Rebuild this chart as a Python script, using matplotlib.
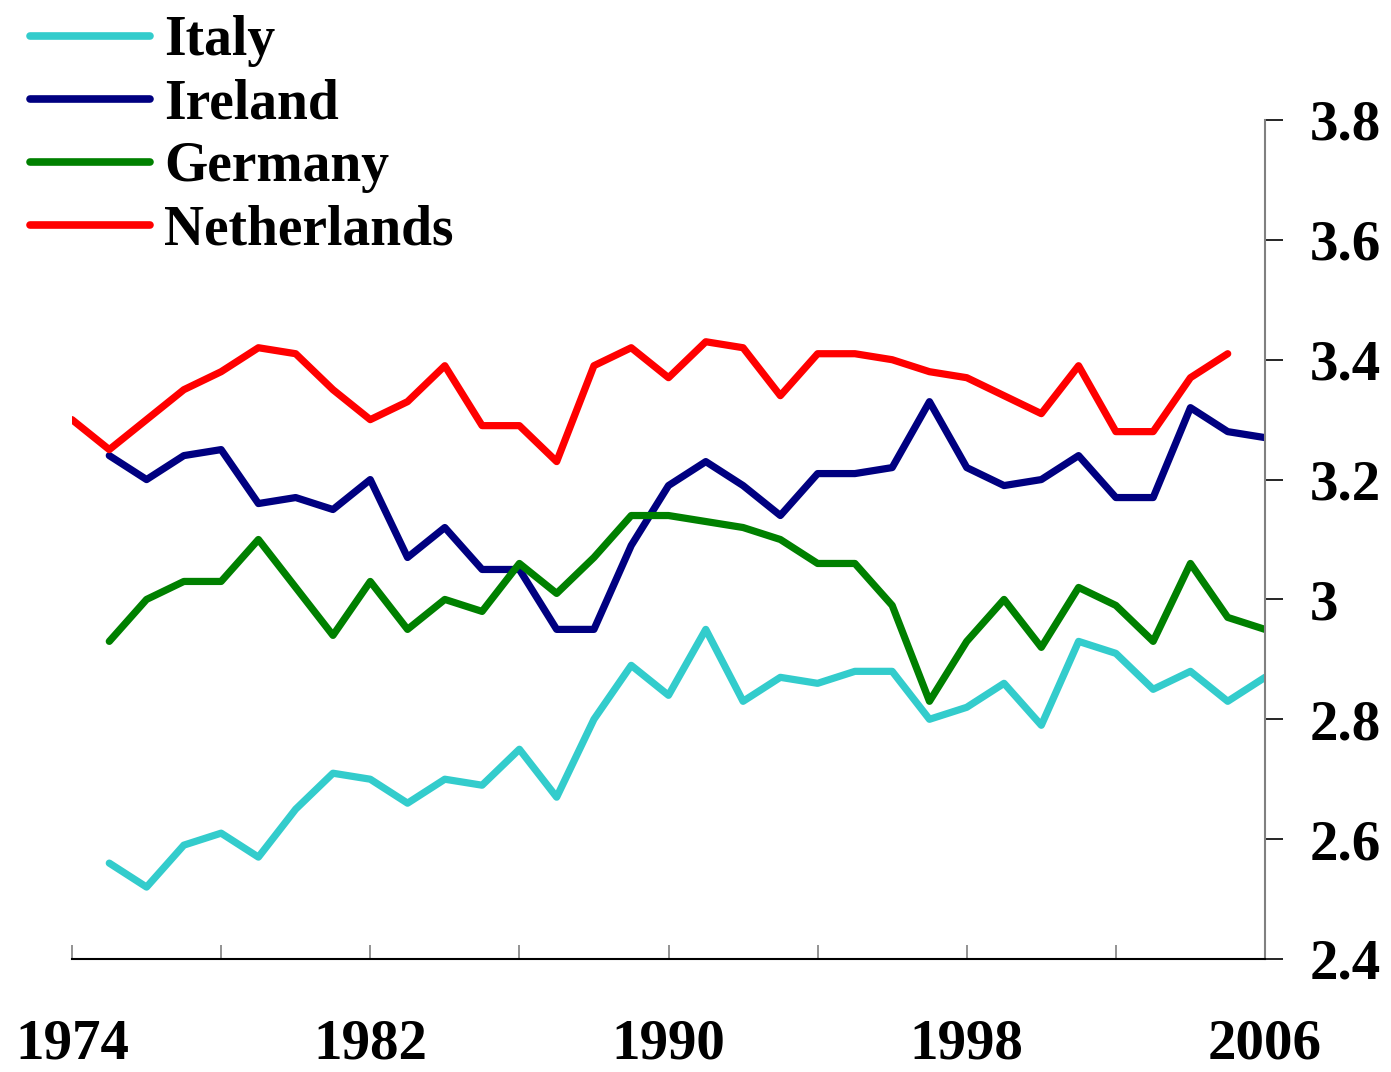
import matplotlib
matplotlib.use("Agg")
import matplotlib.pyplot as plt

# yearly values
years_nl = list(range(1974, 2006))
years = list(range(1975, 2007))

italy = [2.56, 2.52, 2.59, 2.61, 2.57, 2.65, 2.71, 2.70, 2.66, 2.70, 2.69,
         2.75, 2.67, 2.80, 2.89, 2.84, 2.95, 2.83, 2.87, 2.86, 2.88, 2.88, 2.80,
         2.82, 2.86, 2.79, 2.93, 2.91, 2.85, 2.88, 2.83, 2.87]
ireland = [3.24, 3.20, 3.24, 3.25, 3.16, 3.17, 3.15, 3.20, 3.07, 3.12, 3.05,
           3.05, 2.95, 2.95, 3.09, 3.19, 3.23, 3.19, 3.14, 3.21, 3.21, 3.22, 3.33,
           3.22, 3.19, 3.20, 3.24, 3.17, 3.17, 3.32, 3.28, 3.27]
germany = [2.93, 3.00, 3.03, 3.03, 3.10, 3.02, 2.94, 3.03, 2.95, 3.00, 2.98,
           3.06, 3.01, 3.07, 3.14, 3.14, 3.13, 3.12, 3.10, 3.06, 3.06, 2.99, 2.83,
           2.93, 3.00, 2.92, 3.02, 2.99, 2.93, 3.06, 2.97, 2.95]
netherlands = [3.30, 3.25, 3.30, 3.35, 3.38, 3.42, 3.41, 3.35, 3.30, 3.33, 3.39, 3.29,
               3.29, 3.23, 3.39, 3.42, 3.37, 3.43, 3.42, 3.34, 3.41, 3.41, 3.40, 3.38,
               3.37, 3.34, 3.31, 3.39, 3.28, 3.28, 3.37, 3.41]

xticks = list(range(1974, 2007, 4))
xlabels = ['1974', '', '1982', '', '1990', '', '1998', '', '2006']
yticks = [2.4, 2.6, 2.8, 3.0, 3.2, 3.4, 3.6, 3.8]
ylabels = ['2.4', '2.6', '2.8', '3', '3.2', '3.4', '3.6', '3.8']

plt.rcParams['font.family'] = ['Liberation Serif', 'DejaVu Serif']
plt.rcParams['font.weight'] = 'bold'

fig = plt.figure(figsize=(13.91, 10.72), dpi=100)
ax = fig.add_axes([72/1391, 1-959/1072, (1265-72)/1391, (959-120)/1072])

lw = 5.2
ax.plot(years, italy, color='#33CCCC', lw=lw, label='Italy', solid_capstyle='round')
ax.plot(years, ireland, color='#000080', lw=lw, label='Ireland', solid_capstyle='round')
ax.plot(years, germany, color='#008000', lw=lw, label='Germany', solid_capstyle='round')
ax.plot(years_nl, netherlands, color='#FF0000', lw=lw, label='Netherlands', solid_capstyle='round')

ax.set_xlim(1974, 2006)
ax.set_ylim(2.4, 3.8)

ax.spines['top'].set_visible(False)
ax.spines['left'].set_visible(False)
ax.spines['right'].set_color('#808080')
ax.spines['right'].set_linewidth(1.5)
ax.spines['bottom'].set_linewidth(1.5)

ax.yaxis.tick_right()
ax.set_yticks(yticks)
ax.set_yticklabels(ylabels)
ax.tick_params(axis='y', direction='out', length=13, width=1.2, pad=19, labelsize=41)

ax.set_xticks(xticks)
ax.set_xticklabels(xlabels)
ax.tick_params(axis='x', direction='in', length=10, width=1.2, color='#808080', pad=43, labelsize=41)

leg = ax.legend(loc='upper left', bbox_to_anchor=(30/1391, 1 - 15/1072), bbox_transform=fig.transFigure,
                frameon=False, fontsize=40, handlelength=2.16, handletextpad=0.26,
                labelspacing=0.2, borderpad=0, borderaxespad=0)
for h in leg.get_lines():
    h.set_linewidth(5.5)
    h.set_solid_capstyle('round')

fig.savefig('out.png', dpi=100)
